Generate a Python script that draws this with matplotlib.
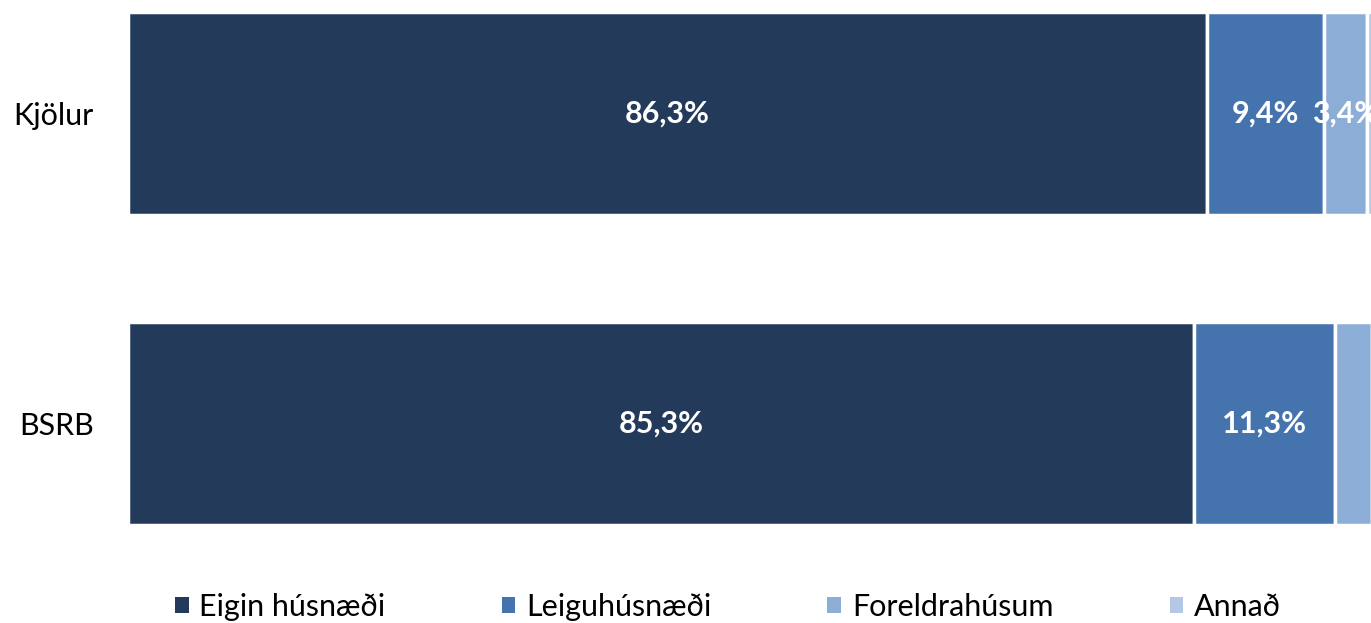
import matplotlib.pyplot as plt
from matplotlib.patches import Patch

plt.rcParams['font.family'] = ['Lato', 'DejaVu Sans']

groups = ["Kjölur", "BSRB"]
series = ["Eigin húsnæði", "Leiguhúsnæði", "Foreldrahúsum", "Annað"]
values = {
    "Eigin húsnæði": [86.3, 85.3],
    "Leiguhúsnæði": [9.4, 11.3],
    "Foreldrahúsum": [3.4, 2.9],
    "Annað": [0.9, 0.5],
}
colors = ["#233a5b", "#4473ae", "#8caed6", "#b4c8e6"]

fig = plt.figure(figsize=(13.71, 6.23), dpi=100)
ax = fig.add_axes([127 / 1371, 83 / 623, 1 - 127 / 1371, 540 / 623])

ypos = list(range(len(groups)))
left = [0.0] * len(groups)
for name, col in zip(series, colors):
    vals = values[name]
    ax.barh(ypos, vals, left=left, height=0.655, color=col,
            edgecolor="white", linewidth=2.5)
    for y, l, v in zip(ypos, left, vals):
        if v >= 3:
            ax.text(l + v / 2, y, f"{v:.1f}%".replace(".", ","),
                    ha="center", va="center", color="white",
                    fontsize=22, fontweight="bold")
    left = [l + v for l, v in zip(left, vals)]

ax.set_xlim(-0.12, 99.45)
ax.set_ylim(1.376, -0.366)
ax.set_yticks(ypos)
ax.set_yticklabels(groups, fontsize=22)
ax.tick_params(axis="y", length=0, pad=24)
ax.set_xticks([])
for s in ax.spines.values():
    s.set_visible(False)

handles = [Patch(facecolor=c, edgecolor="none") for c in colors]
fig.legend(handles, series, loc="center", bbox_to_anchor=(0.531, 0.026),
           ncol=4, frameon=False, fontsize=22, handlelength=0.45,
           handleheight=0.45, handletextpad=0.35, columnspacing=3.8)

plt.savefig("out.png", dpi=100)
